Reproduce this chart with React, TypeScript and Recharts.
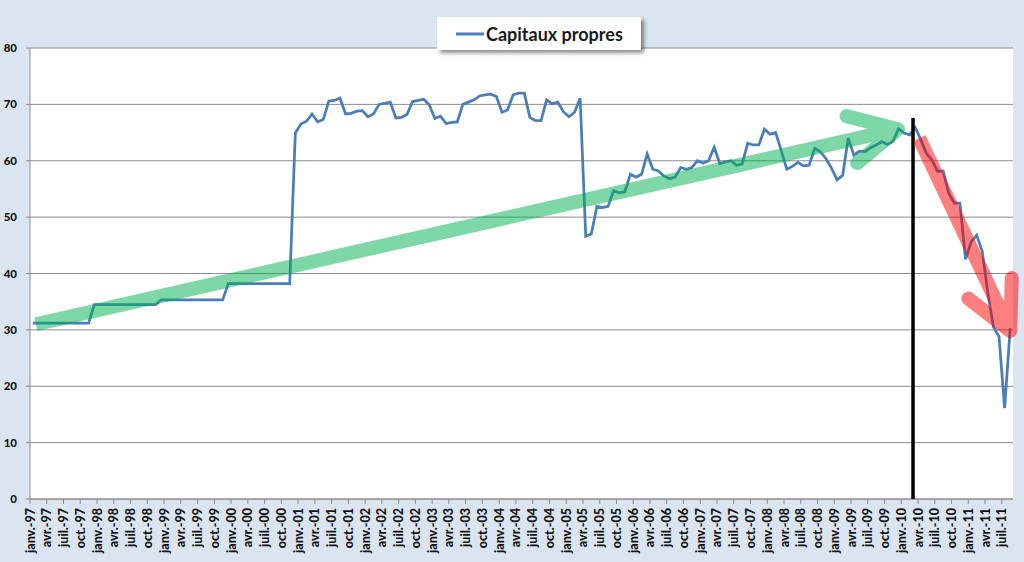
import React from 'react';
import { LineChart, Line, XAxis, YAxis, CartesianGrid, ReferenceLine, Legend } from 'recharts';

// axis labels
const quarterNames = ['janv.', 'avr.', 'juil.', 'oct.'];
const yearLabels = ['97', '98', '99', '00', '01', '02', '03', '04', '05', '06', '07', '08', '09', '10', '11'];
const yTicks = [0, 10, 20, 30, 40, 50, 60, 70, 80];

// monthly values, janv.-97 .. août-11
const capitauxPropres = [
  31.2, 31.2, 31.2, 31.2, 31.2, 31.2, 31.2, 31.2, 31.2, 31.2, 31.2,
  34.5, 34.5, 34.5, 34.5, 34.5, 34.5, 34.5, 34.5, 34.5, 34.5, 34.5, 34.5,
  35.3, 35.3, 35.3, 35.3, 35.3, 35.3, 35.3, 35.3, 35.3, 35.3, 35.3, 35.3,
  38.2, 38.2, 38.2, 38.2, 38.2, 38.2, 38.2, 38.2, 38.2, 38.2, 38.2, 38.2,
  64.9, 66.5, 67.0, 68.3, 66.9, 67.3, 70.6, 70.7, 71.1, 68.3, 68.4, 68.8,
  68.9, 67.8, 68.3, 70.0, 70.2, 70.4, 67.6, 67.7, 68.2, 70.5, 70.7, 70.9,
  69.9, 67.5, 67.9, 66.6, 66.8, 66.9, 70.0, 70.4, 70.8, 71.5, 71.7, 71.8,
  71.4, 68.6, 69.0, 71.7, 72.0, 72.0, 67.7, 67.1, 67.1, 70.8, 70.1, 70.4,
  68.7, 67.8, 68.6, 71.1, 46.6, 47.0, 51.9, 51.7, 51.9, 54.7, 54.3, 54.5,
  57.6, 57.1, 57.6, 61.2, 58.5, 58.2, 57.3, 56.8, 57.1, 58.8, 58.5, 58.8,
  60.0, 59.6, 60.0, 62.4, 59.5, 59.8, 60.0, 59.2, 59.4, 63.1, 62.8, 62.8,
  65.6, 64.7, 65.0, 61.8, 58.5, 59.0, 59.7, 59.1, 59.2, 62.2, 61.6, 60.4,
  58.7, 56.6, 57.4, 64.0, 61.0, 61.7, 61.6, 62.3, 62.8, 63.4, 62.9, 63.4,
  65.7, 64.9, 64.6, 65.9, 63.7, 61.3, 60.1, 58.1, 58.2, 54.2, 52.5, 52.5,
  42.5, 45.6, 46.8, 43.9, 36.5, 30.5, 28.8, 16.1, 30.3,
];

// annotations, in (months since janv.-97, value)
const trendUp = [{ x: 1.07, y: 31.0 }, { x: 155.4, y: 65.6 }];
const trendDown = [{ x: 159.2, y: 64.0 }, { x: 175.5, y: 29.8 }];
const pivot = [{ x: 158.1, y: 67.6 }, { x: 158.1, y: 0 }];

const tickLabels = yearLabels.flatMap((y) => quarterNames.map((q) => `${q}-${y}`)).slice(0, 59);
const xTicks = tickLabels.map((_, i) => i * 3);
const data = capitauxPropres.map((v, i) => ({ mois: i + 0.5, valeur: v }));

const MonthTick = (props: any) => {
  const { x, y, payload } = props;
  return (
    <text
      x={x}
      y={y}
      dy='0.36em'
      transform={`rotate(-90 ${x} ${y})`}
      textAnchor='end'
      fontFamily='Lato'
      fontWeight={900}
      fontSize={12.5}
      fill='#141414'
    >
      {tickLabels[Math.round(payload.value / 3)]}
    </text>
  );
};

const arrowShape = (color: string, width: number) => (props: any) => {
  const { x1, y1, x2, y2 } = props;
  const back = Math.atan2(y1 - y2, x1 - x2);
  const len = 53;
  const spread = (27 * Math.PI) / 180;
  const ax = x2 + len * Math.cos(back + spread);
  const ay = y2 + len * Math.sin(back + spread);
  const bx = x2 + len * Math.cos(back - spread);
  const by = y2 + len * Math.sin(back - spread);
  return (
    <g opacity={0.5}>
      <line x1={x1} y1={y1} x2={x2} y2={y2} stroke={color} strokeWidth={width} />
      <polyline
        points={`${ax},${ay} ${x2},${y2} ${bx},${by}`}
        fill='none'
        stroke={color}
        strokeWidth={width}
        strokeLinecap='round'
        strokeLinejoin='round'
      />
    </g>
  );
};

const LegendBox = (props: any) => {
  const item = props.payload && props.payload[0];
  return (
    <div
      style={{
        width: 204,
        height: 33,
        background: '#ffffff',
        boxShadow: '3px 3px 4px rgba(0,0,0,0.45)',
        display: 'flex',
        alignItems: 'center',
        paddingLeft: 19,
        boxSizing: 'border-box',
      }}
    >
      <svg width={28} height={6} style={{ marginRight: 2 }}>
        <line x1={0} y1={3} x2={28} y2={3} stroke={item ? item.color : '#4a7ebb'} strokeWidth={3} />
      </svg>
      <span style={{ fontFamily: 'Lato', fontWeight: 'bold', fontSize: 18, color: '#1a1a1a' }}>
        {item ? item.value : 'Capitaux propres'}
      </span>
    </div>
  );
};

export default function App() {
  return (
    <div style={{ position: 'absolute', left: 0, top: 0, width: 1024, height: 562, background: '#dbe5f1' }}>
      <LineChart width={1024} height={562} data={data} margin={{ top: 48, right: 11, bottom: 0, left: 0 }}>
        <CartesianGrid vertical={false} stroke='#8c8c8c' fill='#ffffff' />
        <XAxis
          dataKey='mois'
          type='number'
          domain={[0, 176]}
          ticks={xTicks}
          interval={0}
          height={63}
          tickSize={5}
          tickMargin={4}
          tick={MonthTick}
          stroke='#8c8c8c'
          allowDataOverflow
        />
        <YAxis
          domain={[0, 80]}
          ticks={yTicks}
          width={30}
          tickSize={4}
          tickMargin={9}
          stroke='#8c8c8c'
          tick={{ fontFamily: 'Lato', fontWeight: 900, fontSize: 11.5, fill: '#141414' }}
        />
        <Legend
          layout='horizontal'
          verticalAlign='middle'
          align='center'
          wrapperStyle={{ top: 17, left: 437, width: 204, height: 33 }}
          content={LegendBox}
        />
        <Line
          type='linear'
          dataKey='valeur'
          name='Capitaux propres'
          stroke='#4a7ebb'
          strokeWidth={2.75}
          dot={false}
          activeDot={false}
          isAnimationActive={false}
        />
        <ReferenceLine segment={pivot} stroke='#000000' strokeWidth={3.5} ifOverflow='visible' zIndex={1500} />
        <ReferenceLine segment={trendUp} ifOverflow='visible' shape={arrowShape('#00b050', 14)} zIndex={1600} />
        <ReferenceLine segment={trendDown} ifOverflow='visible' shape={arrowShape('#ff0000', 14)} zIndex={1600} />
      </LineChart>
    </div>
  );
}
